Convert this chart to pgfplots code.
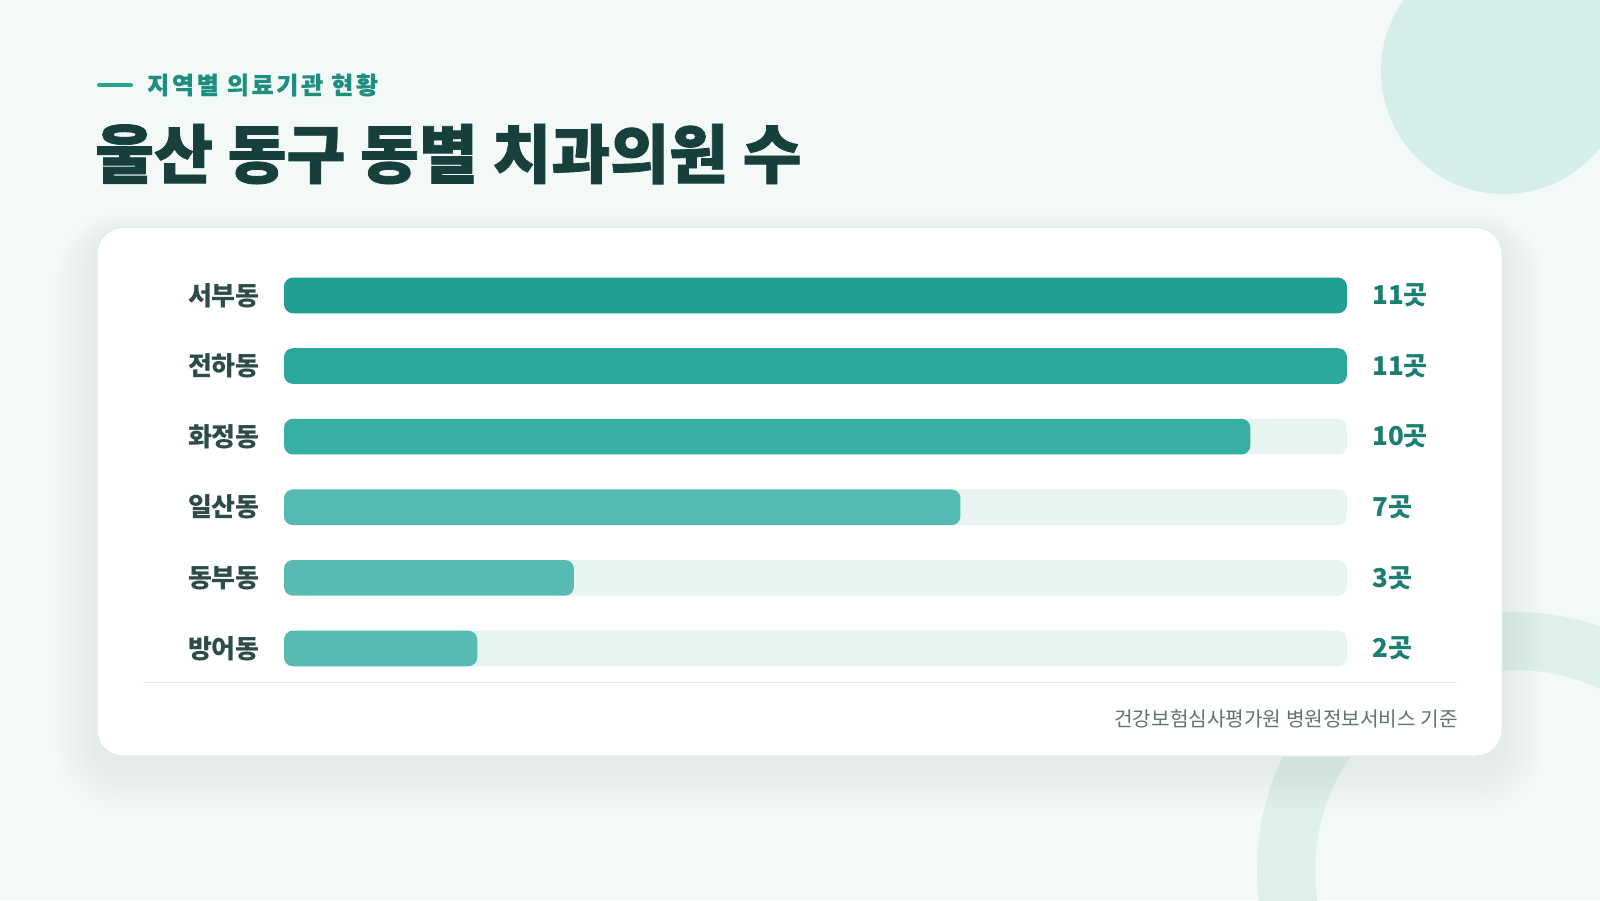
\documentclass[border=0pt]{standalone}
\usepackage{fontspec}
\setmainfont{Noto Sans CJK KR}
\usepackage{pgfplots}
\pgfplotsset{compat=1.18}
\definecolor{bg}{HTML}{F2F9F7}
\definecolor{deco}{HTML}{D5EEE9}
\definecolor{ringc}{HTML}{DDF0EC}
\definecolor{shadowc}{HTML}{2A7A70}
\definecolor{cardborder}{HTML}{DFEDEA}
\definecolor{accent}{HTML}{2AA396}
\definecolor{subc}{HTML}{1F8E80}
\definecolor{titlec}{HTML}{173F3B}
\definecolor{track}{HTML}{E7F4F1}
\definecolor{b1}{HTML}{229E93}
\definecolor{b2}{HTML}{2BA89B}
\definecolor{b3}{HTML}{35B0A3}
\definecolor{b4}{HTML}{55BBB0}
\definecolor{b5}{HTML}{57BBB1}
\definecolor{b6}{HTML}{57BBB1}
\definecolor{labc}{HTML}{2D4B47}
\definecolor{valc}{HTML}{1B7E72}
\definecolor{sepc}{HTML}{DCECE9}
\definecolor{srcc}{HTML}{63736F}
\begin{document}
\begin{tikzpicture}[x=1pt,y=1pt]
\useasboundingbox (0,0) rectangle (1600,900);
\clip (0,0) rectangle (1600,900);
\fill[bg] (0,0) rectangle (1600,900);
% decorations
\fill[deco] (1504,829) circle (123);
\fill[ringc, even odd rule] (1515,30) circle (258) (1515,30) circle (200);
% card shadow
\foreach \i in {1,...,14}{
  \pgfmathsetmacro\r{26+\i*3}
  \fill[shadowc, fill opacity=0.0045, rounded corners=\r pt]
    ({97-\i*3},{144-14-\i*3}) rectangle ({1502+\i*3},{672-6+\i*1.5});
}
% card
\fill[white, rounded corners=26pt] (97,144) rectangle (1502,672.4);
\draw[cardborder, line width=1pt, rounded corners=26pt] (97,144) rectangle (1502,672.4);
% header
\draw[accent, line width=4pt, line cap=round] (99,815) -- (131,815);
\node[anchor=west, inner sep=0pt, text=subc, font=\fontsize{24}{28}\selectfont\bfseries\addfontfeature{LetterSpace=11,FakeBold=0.4}] at (147,815) {지역별 의료기관 현황};
\node[anchor=west, inner sep=0pt, text=titlec, font=\fontsize{64}{74}\selectfont\bfseries\addfontfeature{FakeBold=1.2}] at (95,746) {울산 동구 동별 치과의원 수};
% separator and source
\draw[sepc, line width=1.2pt] (143,217.3) -- (1457,217.3);
\node[anchor=east, inner sep=0pt, text=srcc, font=\fontsize{20.2}{24}\selectfont] at (1458,181.6) {건강보험심사평가원 병원정보서비스 기준};
% chart
\begin{axis}[
  at={(284pt,216.2pt)}, anchor=south west,
  width=1063pt, height=423.7pt, scale only axis,
  xmin=0, xmax=11, ymin=-0.5, ymax=5.5, y dir=reverse,
  axis line style={draw=none}, major tick length=0pt,
  xtick=\empty, ytick={0,1,2,3,4,5},
  yticklabels={서부동,전하동,화정동,일산동,동부동,방어동},
  yticklabel style={font=\fontsize{26}{30}\selectfont\bfseries, text=labc, inner sep=0pt, xshift=-24pt},
  clip=false,
  every axis plot/.append style={xbar, bar width=35.7pt, bar shift=0pt, draw=none, rounded corners=9pt},
]
\addplot[fill=track, nodes near coords, point meta=explicit symbolic,
  every node near coord/.append style={font=\fontsize{26}{30}\selectfont\bfseries, text=valc, anchor=west, inner sep=0pt, xshift=25pt}]
  coordinates {(11,0)[11곳] (11,1)[11곳] (11,2)[10곳] (11,3)[7곳] (11,4)[3곳] (11,5)[2곳]};
\addplot[fill=b1] coordinates {(11,0)};
\addplot[fill=b2] coordinates {(11,1)};
\addplot[fill=b3] coordinates {(10,2)};
\addplot[fill=b4] coordinates {(7,3)};
\addplot[fill=b5] coordinates {(3,4)};
\addplot[fill=b6] coordinates {(2,5)};
\end{axis}
\end{tikzpicture}
\end{document}
